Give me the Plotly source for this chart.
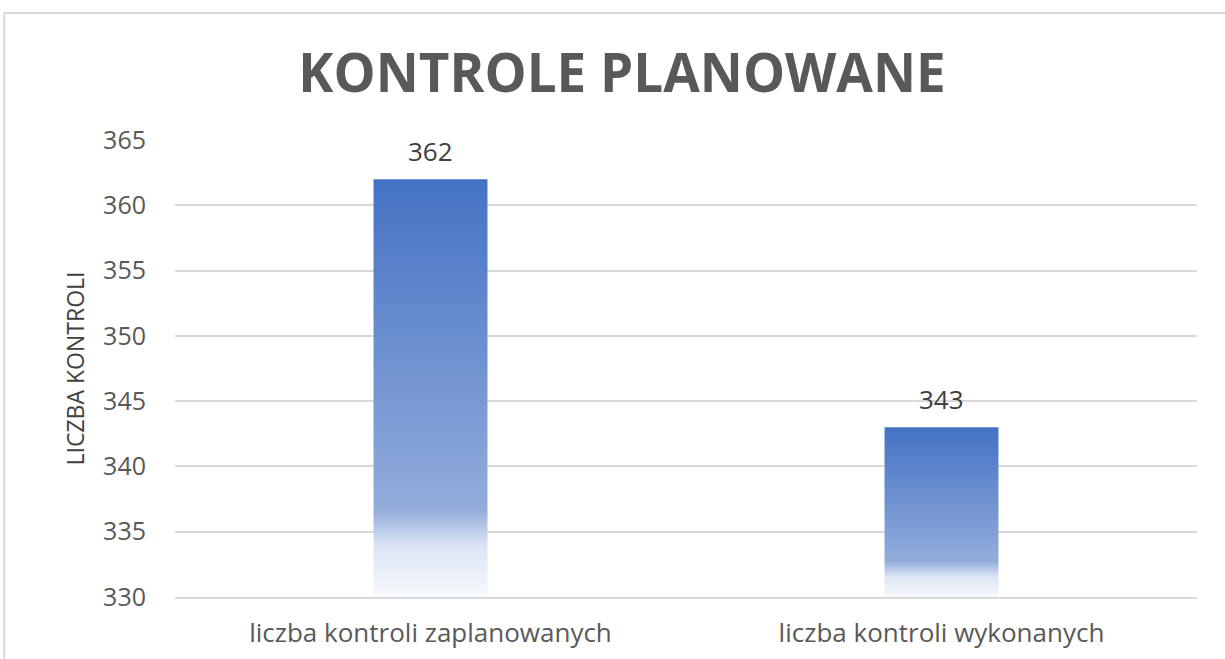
import plotly.graph_objects as go

categories = ["liczba kontroli zaplanowanych", "liczba kontroli wykonanych"]
values = [362, 343]
y_ticks = [330, 335, 340, 345, 350, 355, 360, 365]
title_text = "KONTROLE PLANOWANE"
y_title = "LICZBA KONTROLI"

FONT = "Open Sans"
y_min, y_max = 330, 365
half_w = 0.1115

gradient = [[0.0, "#F7F9FD"], [0.12, "#DCE5F4"], [0.21, "#93ACDB"], [1.0, "#4472C4"]]

fig = go.Figure()
for i, v in enumerate(values):
    fig.add_trace(go.Scatter(
        x=[i - half_w, i + half_w, i + half_w, i - half_w, i - half_w],
        y=[y_min, y_min, v, v, y_min],
        mode="lines",
        line=dict(width=0),
        fill="toself",
        fillgradient=dict(type="vertical", colorscale=gradient),
        hoverinfo="skip",
        showlegend=False,
    ))
    fig.add_annotation(
        x=i, y=v, text=str(v), showarrow=False,
        yanchor="bottom", yshift=8,
        font=dict(family=FONT, size=26, color="#404040"),
    )

# outer chart border
fig.add_shape(type="rect", xref="paper", yref="paper",
              x0=-0.167, x1=1.2, y0=-0.3, y1=1.278,
              line=dict(color="#D9D9D9", width=2), fillcolor="rgba(0,0,0,0)", layer="below")

fig.update_layout(
    width=1225, height=659,
    paper_bgcolor="white", plot_bgcolor="white",
    margin=dict(l=175, r=28, t=140, b=62),
    title=dict(text="<b>" + title_text + "</b>", x=622 / 1225, xref="container", xanchor="center",
               y=1 - 73 / 659, yanchor="middle",
               font=dict(family=FONT, size=53, color="#595959")),
    xaxis=dict(
        range=[-0.5, 1.5], automargin=False,
        tickmode="array", tickvals=list(range(len(categories))), ticktext=categories,
        showgrid=False, zeroline=False,
        showline=True, linecolor="#D9D9D9", linewidth=2,
        ticks="", ticklabelstandoff=12,
        tickfont=dict(family=FONT, size=26, color="#595959"),
    ),
    yaxis=dict(
        range=[y_min, y_max], automargin=False,
        tickmode="array", tickvals=y_ticks,
        showgrid=True, gridcolor="#D9D9D9", gridwidth=1.5,
        zeroline=False, showline=False, ticks="",
        ticklabelstandoff=28,
        tickfont=dict(family=FONT, size=25, color="#595959"),
        title=dict(text=y_title, standoff=12,
                   font=dict(family=FONT, size=23, color="#404040")),
    ),
)

fig.write_html("out.html", config={"displayModeBar": False},
               post_script="document.body.style.margin='0';document.body.style.overflow='hidden';")
